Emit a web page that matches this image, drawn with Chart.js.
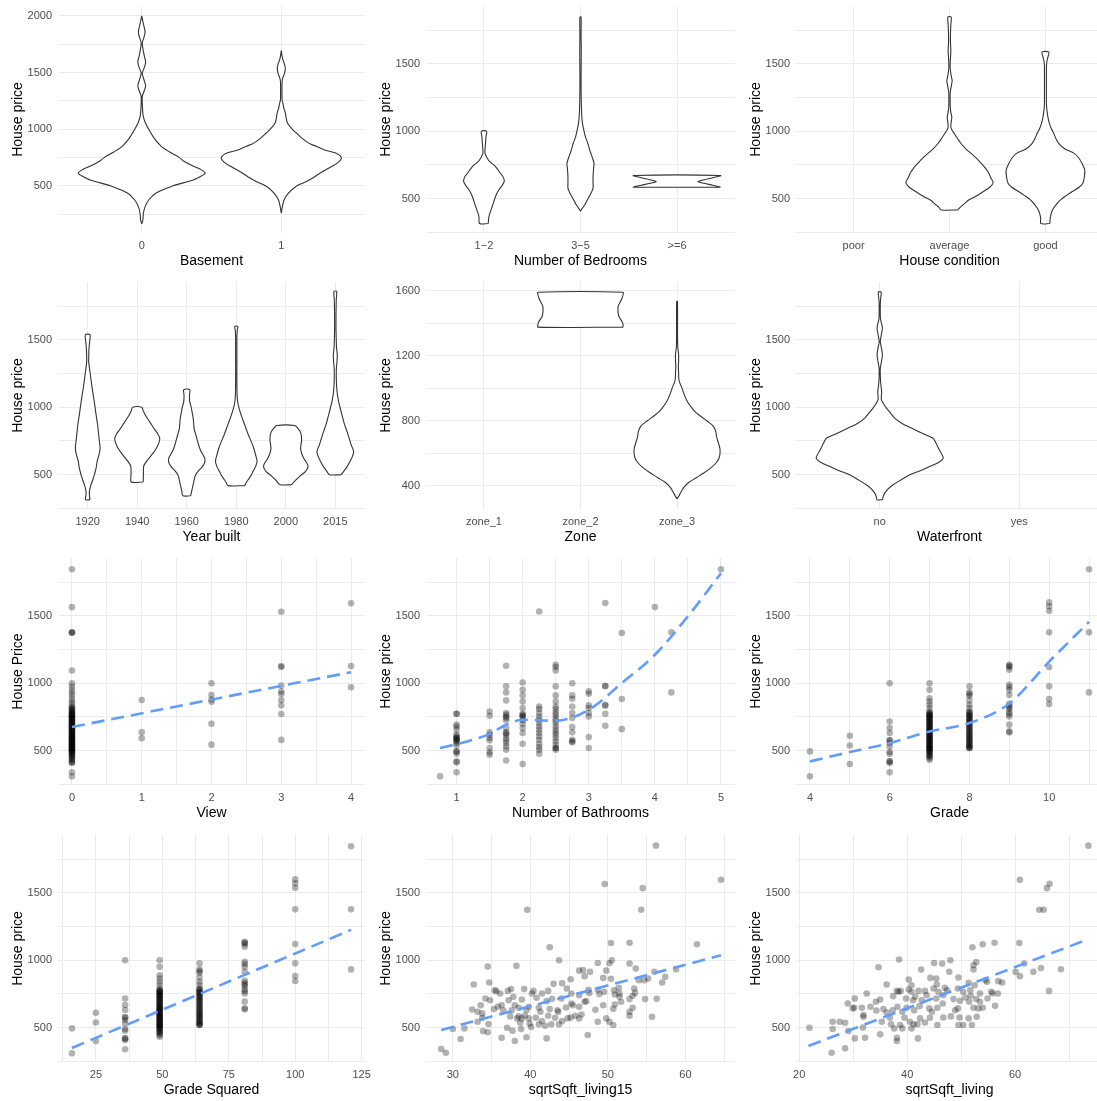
<!DOCTYPE html>
<html>
<head>
<meta charset="utf-8">
<title>House price by feature</title>
<script src="https://cdn.jsdelivr.net/npm/chart.js@4.4.1/dist/chart.umd.min.js"></script>
<style>
  html, body { margin: 0; padding: 0; background: #ffffff; overflow: hidden; width: 1097px; height: 1101px; }
  canvas { position: absolute; }
</style>
</head>
<body>
<script>
// ---------------- Category labels ----------------
const basementCats  = ['0', '1'];
const bedroomCats   = ['1\u22122', '3\u22125', '>=6'];
const conditionCats = ['poor', 'average', 'good'];
const yearCats      = ['1920', '1940', '1960', '1980', '2000', '2015'];
const zoneCats      = ['zone_1', 'zone_2', 'zone_3'];
const waterCats     = ['no', 'yes'];

// ---------------- Violin profiles: [price, half width in category units] ----------------
const basement0 = [[165,0],[200,0.008],[259,0.012],[318,0.024],[376,0.05],[435,0.1],[500,0.22],[553,0.37],[590,0.43],[612,0.455],[640,0.43],[680,0.36],[720,0.3],[750,0.27],[800,0.2],[850,0.14],[920,0.09],[1000,0.05],[1060,0.025],[1120,0.01],[1200,0.005],[1290,0.004],[1340,0.018],[1382,0.028],[1430,0.018],[1494,0.004],[1550,0.02],[1597,0.028],[1650,0.018],[1759,0.004],[1820,0.018],[1862,0.024],[1920,0.014],[1970,0.005],[2000,0]];
const basement1 = [[259,0],[320,0.008],[376,0.02],[435,0.05],[500,0.11],[540,0.18],[582,0.24],[630,0.3],[671,0.36],[710,0.41],[750,0.43],[790,0.39],[818,0.31],[850,0.25],[876,0.2],[920,0.15],[965,0.11],[1000,0.08],[1053,0.045],[1100,0.035],[1141,0.03],[1190,0.018],[1229,0.012],[1259,0.006],[1330,0.005],[1435,0.007],[1490,0.022],[1538,0.029],[1580,0.022],[1612,0.012],[1650,0.005],[1694,0]];

const bed12 = [[316,0.045],[370,0.052],[444,0.087],[517,0.12],[566,0.155],[600,0.19],[627,0.21],[660,0.2],[689,0.17],[738,0.12],[775,0.06],[800,0.035],[836,0.011],[870,0.012],[909,0.016],[960,0.021],[1000,0.027]];
const bed35 = [[407,0],[430,0.02],[456,0.045],[490,0.07],[517,0.09],[550,0.115],[578,0.13],[620,0.13],[664,0.13],[720,0.135],[762,0.14],[800,0.125],[850,0.1],[909,0.076],[960,0.05],[1007,0.035],[1060,0.02],[1130,0.012],[1228,0.008],[1350,0.006],[1500,0.007],[1596,0.008],[1700,0.006],[1846,0.006]];
const bed6  = [[586,0.45],[600,0.37],[614,0.28],[627,0.215],[640,0.28],[656,0.37],[672,0.45]];

const condAverage = [[417,0.087],[436,0.11],[460,0.15],[490,0.2],[520,0.28],[554,0.355],[585,0.42],[620,0.455],[655,0.43],[689,0.41],[730,0.37],[762,0.33],[800,0.28],[836,0.225],[870,0.17],[909,0.12],[950,0.08],[983,0.05],[1010,0.025],[1032,0.014],[1070,0.018],[1105,0.024],[1140,0.014],[1179,0.008],[1230,0.007],[1290,0.008],[1340,0.02],[1375,0.028],[1410,0.018],[1473,0.007],[1530,0.009],[1596,0.014],[1660,0.01],[1718,0.01],[1790,0.014],[1846,0.017]];
const condGood = [[316,0.047],[358,0.05],[390,0.06],[419,0.075],[455,0.11],[493,0.16],[525,0.22],[554,0.28],[585,0.35],[615,0.39],[660,0.405],[713,0.41],[762,0.38],[800,0.35],[836,0.3],[870,0.2],[909,0.14],[945,0.11],[983,0.087],[1020,0.06],[1056,0.042],[1090,0.03],[1130,0.02],[1180,0.012],[1228,0.01],[1300,0.01],[1400,0.01],[1473,0.01],[1500,0.012],[1534,0.02],[1560,0.03],[1588,0.035]];

const year1920 = [[315,0.045],[350,0.035],[377,0.034],[426,0.067],[470,0.11],[500,0.135],[550,0.17],[599,0.19],[650,0.23],[698,0.25],[747,0.236],[800,0.22],[870,0.2],[930,0.175],[995,0.15],[1060,0.125],[1117,0.1],[1180,0.075],[1241,0.054],[1290,0.035],[1340,0.02],[1390,0.022],[1438,0.027],[1490,0.04],[1537,0.047]];
const year1940 = [[446,0.12],[500,0.125],[562,0.13],[590,0.17],[623,0.24],[660,0.32],[698,0.39],[740,0.44],[767,0.455],[800,0.42],[836,0.35],[870,0.29],[909,0.22],[944,0.16],[975,0.12],[1000,0.09]];
const year1960 = [[344,0.078],[380,0.1],[426,0.13],[470,0.155],[500,0.18],[530,0.24],[549,0.29],[580,0.35],[611,0.37],[640,0.34],[680,0.28],[720,0.24],[760,0.21],[800,0.18],[840,0.15],[880,0.14],[920,0.13],[960,0.11],[1000,0.09],[1043,0.06],[1090,0.055],[1130,0.06]];
const year1980 = [[419,0.17],[440,0.2],[463,0.24],[495,0.3],[525,0.34],[560,0.39],[599,0.42],[648,0.39],[700,0.35],[747,0.3],[800,0.24],[870,0.17],[930,0.11],[995,0.054],[1050,0.025],[1117,0.015],[1250,0.012],[1364,0.013],[1450,0.013],[1525,0.013],[1570,0.02],[1599,0.03]];
const year2000 = [[426,0.118],[460,0.2],[488,0.28],[525,0.4],[562,0.45],[590,0.42],[611,0.38],[648,0.33],[680,0.305],[698,0.3],[730,0.31],[760,0.32],[800,0.31],[821,0.29],[845,0.24],[865,0.18]];
const year2015 = [[500,0.118],[525,0.17],[560,0.24],[599,0.3],[640,0.35],[673,0.37],[722,0.32],[770,0.28],[821,0.236],[880,0.18],[944,0.135],[1000,0.095],[1043,0.067],[1100,0.04],[1167,0.025],[1230,0.02],[1290,0.022],[1340,0.035],[1389,0.04],[1440,0.025],[1488,0.02],[1560,0.015],[1611,0.014],[1700,0.015],[1800,0.02],[1858,0.027]];

const zone2 = [[1377,0.44],[1395,0.44],[1412,0.43],[1440,0.4],[1463,0.39],[1484,0.388],[1505,0.39],[1530,0.41],[1555,0.43],[1575,0.44],[1592,0.44]];
const zone3 = [[318,0],[339,0.02],[360,0.04],[390,0.07],[420,0.12],[450,0.2],[480,0.28],[510,0.35],[545,0.41],[580,0.44],[625,0.445],[660,0.43],[700,0.41],[737,0.4],[770,0.37],[799,0.31],[830,0.24],[860,0.18],[890,0.14],[921,0.105],[960,0.075],[1003,0.05],[1040,0.025],[1065,0.017],[1100,0.016],[1130,0.013],[1170,0.016],[1208,0.016],[1250,0.008],[1300,0.005],[1400,0.005],[1535,0.004]];

const waterNo = [[315,0.02],[340,0.025],[364,0.036],[395,0.06],[426,0.096],[460,0.15],[500,0.215],[530,0.29],[562,0.36],[590,0.42],[623,0.455],[660,0.44],[698,0.42],[740,0.4],[772,0.38],[800,0.32],[846,0.227],[880,0.16],[920,0.107],[960,0.075],[994,0.048],[1030,0.025],[1056,0.012],[1085,0.012],[1117,0.014],[1150,0.01],[1191,0.006],[1240,0.004],[1290,0.004],[1340,0.013],[1389,0.019],[1440,0.012],[1488,0.004],[1540,0.012],[1586,0.019],[1625,0.012],[1660,0.005],[1759,0.004],[1800,0.006],[1853,0.01]];

// ---------------- Scatter data (price in thousands) ----------------
const viewLevels = [0, 1, 2, 3, 4];
const viewPrices = [
  [1845, 1564, 1376, 1376, 1376, 1094, 1000, 975, 951, 930, 909, 885, 865, 845, 828, 820, 812, 805, 798, 790, 785, 779, 774, 770, 765, 760, 754, 750, 746, 742, 736, 730, 725, 720, 714, 708, 705, 700, 694, 690, 685, 680, 675, 670, 665, 660, 656, 650, 645, 640, 636, 631, 626, 620, 618, 612, 606, 601, 597, 594, 590, 586, 581, 577, 572, 569, 565, 562, 557, 552, 548, 544, 540, 536, 532, 527, 522, 520, 515, 510, 507, 502, 498, 495, 490, 485, 478, 471, 465, 458, 450, 441, 433, 421, 414, 409, 340, 310],
  [875, 636, 592],
  [1000, 912, 880, 862, 700, 545],
  [1530, 1128, 1120, 982, 938, 920, 875, 836, 772, 580],
  [1592, 1128, 970]
];
const viewTrend = [[0, 676], [4, 1082]];

const bathLevels = [0.75, 1, 1.5, 1.75, 2, 2.25, 2.5, 2.75, 3, 3.25, 3.5, 4, 4.25, 5];
const bathPrices = [
  [310],
  [774, 774, 693, 680, 656, 618, 606, 594, 594, 581, 581, 570, 557, 540, 495, 495, 478, 421, 414, 340],
  [791, 759, 636, 618, 594, 577, 520, 488, 471],
  [1130, 977, 932, 873, 779, 767, 754, 742, 725, 668, 636, 630, 618, 594, 577, 557, 532, 507, 428],
  [1006, 951, 910, 865, 816, 774, 767, 754, 754, 725, 700, 668, 631, 552, 401],
  [1532, 828, 809, 779, 754, 730, 705, 680, 656, 631, 606, 581, 552, 527, 507, 478],
  [1137, 1120, 1095, 977, 910, 865, 828, 809, 784, 767, 742, 725, 705, 680, 656, 636, 618, 594, 569, 544, 520, 520, 507],
  [1000, 910, 885, 828, 779, 742, 675, 636, 581, 569, 562],
  [940, 922, 836, 816, 779, 754, 601, 520],
  [1595, 981, 977, 840, 833, 774, 685],
  [1372, 883, 660],
  [1564],
  [1377, 932],
  [1845]
];
const bathTrend = [[0.75, 520], [1.25, 581], [1.5, 625], [1.75, 692], [2, 730], [2.5, 722], [3, 803], [3.5, 1001], [4, 1211], [4.5, 1496], [5, 1815]];

const gradeLevels   = [4, 5, 6, 7, 8, 9, 10, 11];
const gradeSqLevels = [16, 25, 36, 49, 64, 81, 100, 121];
const gradePrices = [
  [495, 310],
  [611, 539, 401],
  [1000, 717, 668, 631, 577, 577, 557, 532, 490, 478, 421, 421, 409, 340],
  [1000, 951, 889, 865, 840, 816, 791, 779, 774, 770, 765, 760, 754, 748, 742, 736, 730, 725, 718, 712, 705, 700, 694, 688, 680, 675, 668, 662, 656, 650, 645, 640, 636, 630, 625, 618, 612, 606, 600, 594, 590, 585, 581, 575, 569, 562, 557, 552, 546, 540, 535, 530, 525, 520, 515, 510, 505, 500, 495, 488, 478, 470, 462, 458, 445, 433],
  [977, 932, 920, 907, 873, 840, 816, 791, 784, 776, 768, 760, 754, 745, 738, 730, 722, 715, 705, 698, 690, 680, 672, 662, 655, 645, 636, 628, 620, 612, 604, 596, 588, 580, 572, 565, 557, 548, 540, 532, 525, 520, 520],
  [1137, 1130, 1120, 1100, 988, 972, 951, 914, 848, 833, 820, 809, 784, 770, 754, 693, 643, 636],
  [1599, 1570, 1537, 1377, 1120, 977, 883, 846],
  [1845, 1377, 932]
];
const gradeTrend   = [[4, 421], [5, 490], [6, 557], [7, 643], [8, 705], [9, 850], [10, 1160], [11, 1455]];
const gradeSqTrend = [[16, 350], [121, 1225]];

const living15Points = [[56.2,1849],[49.6,1564],[64.6,1596],[54.5,1534],[39.6,1374],[54.3,1374],[61.5,1118],[50.4,1128],[52.8,1130],[42.5,1096],[43.7,1000],[50.5,1000],[50.2,978],[48.7,980],[52.8,975],[34.5,953],[38.2,958],[53.6,938],[58.8,933],[56,914],[46.3,923],[46.8,928],[49.8,923],[47.7,914],[32.7,820],[34.7,835],[43,825],[44.1,830],[45.2,859],[47,882],[49.4,869],[50.4,862],[54.7,852],[57.4,877],[57,835],[35.4,778],[35.6,771],[37.1,773],[37.5,786],[39.2,786],[40.4,773],[40.2,754],[42.3,773],[44.7,791],[47.5,781],[48.7,781],[45.3,754],[47.6,758],[49.5,766],[50.8,778],[51.4,795],[50.9,746],[51.5,754],[53.4,791],[53.5,758],[55.2,864],[54,852],[34.2,717],[34.8,704],[36.1,754],[36.3,667],[37.2,704],[37.8,729],[38.9,709],[40.8,722],[41.5,754],[42.1,697],[42.8,714],[44,717],[46.3,741],[47,692],[48.9,749],[51.5,729],[51.7,692],[52.8,712],[53.2,737],[32.5,635],[33.2,618],[33.6,667],[33.8,606],[35.3,638],[35.8,655],[36.5,630],[37.6,630],[38,667],[38.5,648],[39.5,630],[39.8,655],[41.1,648],[41.3,618],[42.5,638],[43.5,630],[43.6,618],[44.6,650],[45.3,680],[45.5,667],[46.3,655],[47.2,697],[48.4,633],[49.4,667],[50.7,640],[50.9,672],[52.8,618],[53.2,648],[33.2,544],[33.8,574],[34.6,527],[37.4,584],[38.3,569],[38.5,584],[38.9,569],[39.3,589],[39.8,569],[38.7,537],[39.9,530],[40.7,574],[41.5,549],[41.9,515],[42.3,589],[42.7,525],[43.2,574],[43.7,525],[44.1,549],[44.8,569],[45.2,576],[45.8,589],[46.3,569],[46.6,598],[48.7,544],[49.8,569],[50.2,544],[50.7,520],[52.8,589],[55.7,581],[56.3,714],[54.8,712],[30,490],[31.5,495],[33.9,475],[34.5,466],[36.3,426],[37,500],[37.7,478],[38.8,490],[39.5,429],[40.1,505],[42.1,421],[38,402],[28.5,342],[29.1,315],[31,416],[47.4,446],[41.1,525]];
const living15Trend = [[28.5, 483], [64.6, 1037]];

const livingPoints = [[73.6,1849],[60.9,1596],[66.4,1566],[65.9,1534],[64.5,1374],[65.3,1374],[56.2,1130],[60.8,1128],[54,1118],[52.1,1096],[38.5,1005],[52.8,987],[45,980],[46.5,975],[48,1000],[34.7,948],[42.6,931],[47.8,914],[52.3,963],[52.3,931],[60.1,914],[60.9,882],[61.7,975],[63.4,914],[64.8,943],[68.5,933],[66.3,773],[40.3,857],[44.3,869],[45.4,864],[49.5,872],[54.5,852],[56.9,845],[57.6,835],[54.8,840],[36.2,820],[40.8,815],[45.5,820],[51.4,832],[47,795],[44.9,791],[47.4,778],[52.5,815],[38.1,773],[38.8,773],[40.3,783],[40.8,766],[42.1,773],[43.3,773],[45.8,766],[49.4,791],[50.4,766],[51.7,778],[53.5,754],[55.6,766],[55.8,754],[56.8,754],[30.3,717],[29,680],[32.5,754],[34.2,692],[35,709],[37.4,734],[38.4,766],[39.8,717],[41.1,704],[41.5,729],[42.7,704],[43.6,741],[45.4,717],[46.7,741],[48.6,712],[49.8,699],[50.8,724],[51.8,737],[52.8,712],[53.5,692],[54.9,717],[56.3,662],[29.9,643],[30.2,648],[31.6,648],[31.9,594],[33.2,655],[34.3,628],[35.6,638],[36.2,613],[37.3,630],[38.2,655],[39.1,618],[39.9,648],[41.3,630],[42.3,660],[44.1,643],[44.6,618],[45.6,648],[46.6,680],[48.9,630],[49.4,643],[51.5,692],[53.2,643],[54,648],[52.3,648],[28.5,537],[26.2,544],[31.9,581],[35.3,544],[36.8,574],[37,525],[38.7,520],[39.5,574],[40.5,544],[41.2,525],[41.9,525],[42.4,569],[43.3,539],[44.2,574],[45.6,520],[46.7,576],[48.1,584],[49.5,520],[50.4,520],[51.4,569],[52,520],[52.9,581],[49.7,576],[21.9,500],[26.2,490],[29.1,475],[31.8,502],[30.3,421],[32.2,426],[35,451],[37.6,495],[38.1,426],[38.1,402],[39.1,495],[40.8,495],[42,421],[26,315],[28.5,347],[27.5,544]];
const livingTrend = [[21.7, 365], [73.5, 1155]];

// ---------------- Axis ticks ----------------
const priceMajor = [500, 1000, 1500];
const priceMinor = [250, 750, 1250, 1750];
const basementPriceMajor = [500, 1000, 1500, 2000];
const zonePriceMajor = [400, 800, 1200, 1600];
const zonePriceMinor = [600, 1000, 1400];

// ---------------- Layout ----------------
const FONT = '"Liberation Sans", Arial, Helvetica, sans-serif';
Chart.defaults.font.family = FONT;

const PLOT_LEFT  = [58, 426, 796];
const PLOT_WIDTH = [307, 309, 307];
const PLOT_TOP   = [6, 282, 558, 835];
const PLOT_HEIGHT = 227;
const Y_AXIS_W = 58, X_AXIS_H = 45, PAD_TOP = 6, PAD_RIGHT = 14;
const GRID = '#EBEBEB';
const TICK_COLOR = '#4D4D4D';
const POINT_COLOR = 'rgba(0,0,0,0.3)';
const TREND_COLOR = '#619CFF';

function axisOptions(isX, range, majors, minors, title, labelFor) {
  const ticks = majors.concat(minors).sort((a, b) => a - b);
  return {
    type: 'linear',
    min: range[0],
    max: range[1],
    bounds: 'data',
    border: { display: false },
    grid: { drawTicks: false, color: GRID, lineWidth: 1 },
    ticks: {
      autoSkip: false, maxRotation: 0, minRotation: 0,
      padding: isX ? 6.5 : 6,
      color: TICK_COLOR,
      font: { size: 11 },
      callback: v => majors.includes(v) ? (labelFor ? labelFor(v) : String(v)) : ''
    },
    title: {
      display: true, text: title, color: '#000000', font: { size: 14 },
      padding: isX ? { top: 0, bottom: 8 } : { top: 9.5, bottom: 0 }
    },
    afterBuildTicks: s => { s.ticks = ticks.map(v => ({ value: v })); },
    afterFit: s => {
      if (isX) { s.height = X_AXIS_H; s.paddingLeft = 0; s.paddingRight = 0; }
      else { s.width = Y_AXIS_W; s.paddingTop = 0; s.paddingBottom = 0; }
    }
  };
}

// closed outline of one violin around category position `center`
function violinOutline(center, profile) {
  const right = profile.map(([p, w]) => ({ x: center + w, y: p }));
  const left = profile.slice().reverse().map(([p, w]) => ({ x: center - w, y: p }));
  const all = right.concat(left);
  const pts = all.filter((pt, i) => i === 0 || pt.x !== all[i - 1].x || pt.y !== all[i - 1].y);
  pts.push({ x: pts[0].x, y: pts[0].y });
  return pts;
}

function violinDataset(center, profile) {
  return {
    type: 'line',
    data: violinOutline(center, profile),
    borderColor: '#333333',
    borderWidth: 1.1,
    backgroundColor: '#FFFFFF',
    fill: 'shape',
    tension: 0.3,
    pointRadius: 0,
    pointHitRadius: 0
  };
}

function pointsDataset(points) {
  return {
    type: 'scatter',
    data: points,
    backgroundColor: POINT_COLOR,
    borderColor: 'rgba(0,0,0,0)',
    borderWidth: 0,
    pointRadius: 3.3,
    pointHoverRadius: 3.3
  };
}

function trendDataset(trend, curved) {
  return {
    type: 'line',
    data: trend.map(([x, y]) => ({ x, y })),
    borderColor: TREND_COLOR,
    borderWidth: 2.6,
    borderDash: [13, 7],
    borderCapStyle: 'butt',
    fill: false,
    pointRadius: 0,
    tension: curved ? 0.4 : 0,
    cubicInterpolationMode: curved ? 'monotone' : 'default'
  };
}

function columnPoints(levels, prices) {
  const pts = [];
  levels.forEach((lv, i) => prices[i].forEach(p => pts.push({ x: lv, y: p })));
  return pts;
}

function addPanel(row, col, datasets, xAxis, yAxis) {
  const L = PLOT_LEFT[col], T = PLOT_TOP[row], W = PLOT_WIDTH[col];
  const canvas = document.createElement('canvas');
  canvas.width = Y_AXIS_W + W + PAD_RIGHT;
  canvas.height = PAD_TOP + PLOT_HEIGHT + X_AXIS_H;
  canvas.style.left = (L - Y_AXIS_W) + 'px';
  canvas.style.top = (T - PAD_TOP) + 'px';
  canvas.style.width = canvas.width + 'px';
  canvas.style.height = canvas.height + 'px';
  document.body.appendChild(canvas);
  new Chart(canvas, {
    type: 'scatter',
    data: { datasets },
    options: {
      responsive: false,
      animation: false,
      devicePixelRatio: 1,
      events: [],
      layout: { padding: { top: PAD_TOP, right: PAD_RIGHT, left: 0, bottom: 0 } },
      plugins: { legend: { display: false }, tooltip: { enabled: false } },
      scales: { x: xAxis, y: yAxis }
    }
  });
}

function categoryAxis(cats, title) {
  const idx = cats.map((c, i) => i + 1);
  return axisOptions(true, [0.4, cats.length + 0.6], idx, [], title, v => cats[v - 1]);
}

const stdPriceRange = [246, 1928];
const priceAxis = (title) => axisOptions(false, stdPriceRange, priceMajor, priceMinor, title || 'House price');

// Row 1: basement, bedrooms, condition
addPanel(0, 0,
  [violinDataset(1, basement0), violinDataset(2, basement1)],
  categoryAxis(basementCats, 'Basement'),
  axisOptions(false, [85, 2088], basementPriceMajor, priceMinor, 'House price'));

addPanel(0, 1,
  [violinDataset(1, bed12), violinDataset(2, bed35), violinDataset(3, bed6)],
  categoryAxis(bedroomCats, 'Number of Bedrooms'),
  priceAxis());

addPanel(0, 2,
  [violinDataset(2, condAverage), violinDataset(3, condGood)],
  categoryAxis(conditionCats, 'House condition'),
  priceAxis());

// Row 2: year built, zone, waterfront
addPanel(1, 0,
  [year1920, year1940, year1960, year1980, year2000, year2015].map((v, i) => violinDataset(i + 1, v)),
  categoryAxis(yearCats, 'Year built'),
  priceAxis());

addPanel(1, 1,
  [violinDataset(2, zone2), violinDataset(3, zone3)],
  categoryAxis(zoneCats, 'Zone'),
  axisOptions(false, [257, 1655], zonePriceMajor, zonePriceMinor, 'House price'));

addPanel(1, 2,
  [violinDataset(1, waterNo)],
  categoryAxis(waterCats, 'Waterfront'),
  priceAxis());

// Row 3: view, bathrooms, grade
addPanel(2, 0,
  [trendDataset(viewTrend, false), pointsDataset(columnPoints(viewLevels, viewPrices))],
  axisOptions(true, [-0.2, 4.2], [0, 1, 2, 3, 4], [0.5, 1.5, 2.5, 3.5], 'View'),
  priceAxis('House Price'));

addPanel(2, 1,
  [trendDataset(bathTrend, true), pointsDataset(columnPoints(bathLevels, bathPrices))],
  axisOptions(true, [0.5375, 5.2125], [1, 2, 3, 4, 5], [1.5, 2.5, 3.5, 4.5], 'Number of Bathrooms'),
  priceAxis());

addPanel(2, 2,
  [trendDataset(gradeTrend, true), pointsDataset(columnPoints(gradeLevels, gradePrices))],
  axisOptions(true, [3.65, 11.35], [4, 6, 8, 10], [5, 7, 9, 11], 'Grade'),
  priceAxis());

// Row 4: grade squared, living area (neighbours), living area
addPanel(3, 0,
  [trendDataset(gradeSqTrend, false), pointsDataset(columnPoints(gradeSqLevels, gradePrices))],
  axisOptions(true, [10.75, 126.25], [25, 50, 75, 100, 125], [12.5, 37.5, 62.5, 87.5, 112.5], 'Grade Squared'),
  priceAxis());

addPanel(3, 1,
  [trendDataset(living15Trend, false), pointsDataset(living15Points.map(([x, y]) => ({ x, y })))],
  axisOptions(true, [26.54, 66.4], [30, 40, 50, 60], [35, 45, 55, 65], 'sqrtSqft_living15'),
  priceAxis());

addPanel(3, 2,
  [trendDataset(livingTrend, false), pointsDataset(livingPoints.map(([x, y]) => ({ x, y })))],
  axisOptions(true, [19.4, 76.3], [20, 40, 60], [30, 50, 70], 'sqrtSqft_living'),
  priceAxis());
</script>
</body>
</html>
